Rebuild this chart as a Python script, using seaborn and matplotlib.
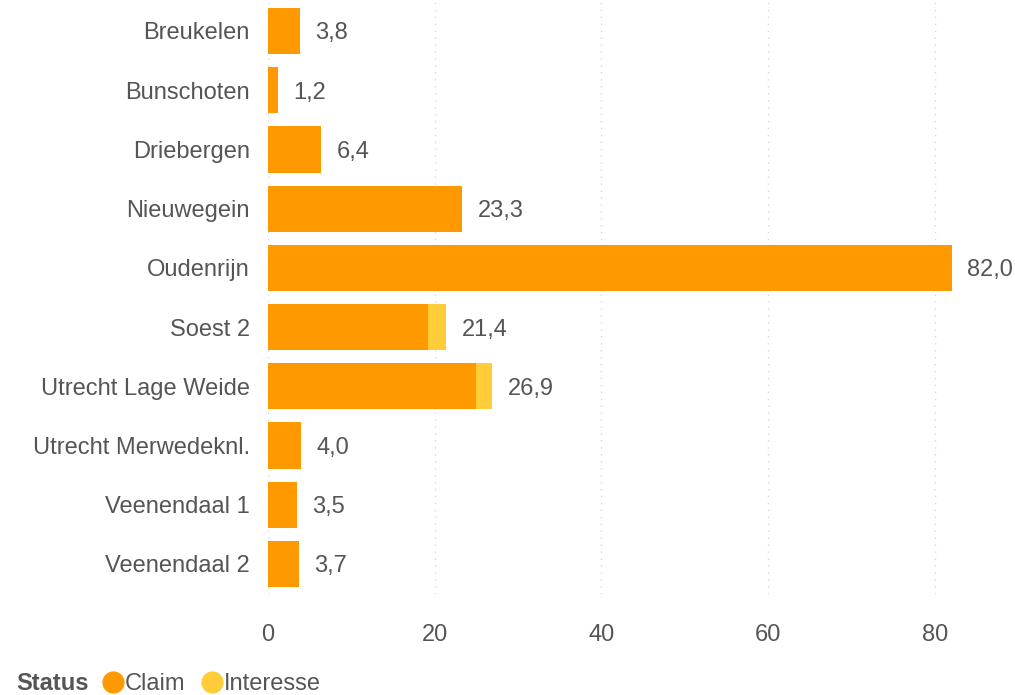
import matplotlib
matplotlib.use("Agg")
import matplotlib.pyplot as plt
from matplotlib.lines import Line2D
import pandas as pd
import seaborn as sns

# Data
locaties = ["Breukelen", "Bunschoten", "Driebergen", "Nieuwegein", "Oudenrijn",
            "Soest 2", "Utrecht Lage Weide", "Utrecht Merwedeknl.",
            "Veenendaal 1", "Veenendaal 2"]
claim = [3.8, 1.2, 6.4, 23.3, 82.0, 19.2, 25.0, 4.0, 3.5, 3.7]
interesse = [0.0, 0.0, 0.0, 0.0, 0.0, 2.2, 1.9, 0.0, 0.0, 0.0]
totaal_labels = ["3,8", "1,2", "6,4", "23,3", "82,0", "21,4", "26,9", "4,0", "3,5", "3,7"]

kleur_claim = "#FF9900"
kleur_interesse = "#FFCC3A"
tekst_kleur = "#555555"

df = pd.DataFrame({"Locatie": locaties, "Claim": claim, "Interesse": interesse})
df["Totaal"] = df["Claim"] + df["Interesse"]

sns.set_style("white")
plt.rcParams["font.family"] = ["Liberation Sans", "DejaVu Sans"]
fs = 17

fig = plt.figure(figsize=(10.15, 6.95), dpi=100)
ax = fig.add_axes([0.264, 0.146, 0.736, 0.852])

# gestapelde balken: totaal (interesse) eerst, claim eroverheen
sns.barplot(data=df, y="Locatie", x="Totaal", color=kleur_interesse,
            width=0.78, saturation=1, linewidth=0, ax=ax, zorder=2)
sns.barplot(data=df, y="Locatie", x="Claim", color=kleur_claim,
            width=0.78, saturation=1, linewidth=0, ax=ax, zorder=3)

# waardelabels
for i, (tot, lab) in enumerate(zip(df["Totaal"], totaal_labels)):
    ax.annotate(lab, (tot, i), xytext=(11, 0), textcoords="offset points",
                va="center_baseline", ha="left", fontsize=fs, color=tekst_kleur)

ax.set_xlim(0, 89.6)
ax.set_xticks([0, 20, 40, 60, 80])
ax.set_xlabel("")
ax.set_ylabel("")
ax.grid(True, axis="x", linestyle=(0, (1, 4)), color="#d8d8d8", linewidth=1, zorder=0)
ax.set_axisbelow(True)
for s in ax.spines.values():
    s.set_visible(False)
ax.tick_params(axis="x", length=0, pad=22, labelsize=fs, labelcolor=tekst_kleur)
ax.tick_params(axis="y", length=0, pad=13, labelsize=fs, labelcolor=tekst_kleur)
for t in ax.get_yticklabels():
    t.set_verticalalignment("center_baseline")

# legenda onderaan
fig.text(0.016, 0.016, "Status", fontsize=fs, fontweight="bold", color=tekst_kleur,
         ha="left", va="center")
handles = [Line2D([], [], marker="o", linestyle="", markersize=15, color=kleur_claim),
           Line2D([], [], marker="o", linestyle="", markersize=15, color=kleur_interesse)]
fig.legend(handles, ["Claim", "Interesse"], loc="center left", bbox_to_anchor=(0.1, 0.016),
           ncol=2, frameon=False, fontsize=fs, handletextpad=0.0, columnspacing=0.6,
           handlelength=1.0, labelcolor=tekst_kleur, borderaxespad=0, borderpad=0)

fig.savefig("out.png", dpi=100)
